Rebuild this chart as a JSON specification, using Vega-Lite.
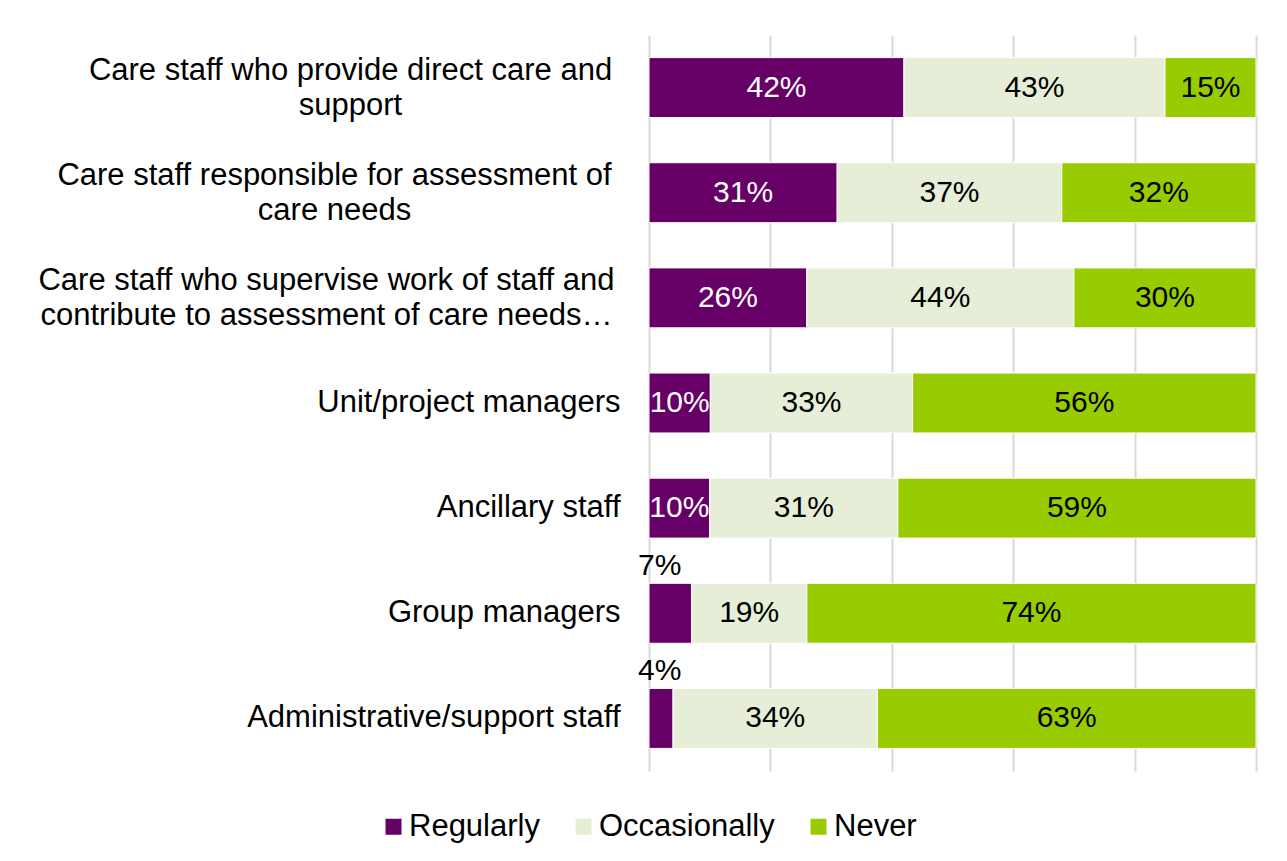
{
  "$schema": "https://vega.github.io/schema/vega-lite/v6.json",
  "autosize": {"type": "none"},
  "padding": {"left": 649, "top": 35, "right": 31, "bottom": 90},
  "width": 607,
  "height": 736,
  "background": "white",
  "config": {
    "font": "Liberation Sans",
    "view": {"stroke": null},
    "axisX": {"labels": false, "ticks": false, "domain": false, "grid": true, "gridColor": "#D9D9D9", "gridWidth": 2, "title": null}
  },
  "data": {
    "values": [
      {"role": "Care staff who provide direct care and\nsupport", "response": "Regularly", "value": 0.42},
      {"role": "Care staff who provide direct care and\nsupport", "response": "Occasionally", "value": 0.43},
      {"role": "Care staff who provide direct care and\nsupport", "response": "Never", "value": 0.15},
      {"role": "Care staff responsible for assessment of\ncare needs", "response": "Regularly", "value": 0.31},
      {"role": "Care staff responsible for assessment of\ncare needs", "response": "Occasionally", "value": 0.37},
      {"role": "Care staff responsible for assessment of\ncare needs", "response": "Never", "value": 0.32},
      {"role": "Care staff who supervise work of staff and\ncontribute to assessment of care needs…", "response": "Regularly", "value": 0.26},
      {"role": "Care staff who supervise work of staff and\ncontribute to assessment of care needs…", "response": "Occasionally", "value": 0.44},
      {"role": "Care staff who supervise work of staff and\ncontribute to assessment of care needs…", "response": "Never", "value": 0.30},
      {"role": "Unit/project managers", "response": "Regularly", "value": 0.10},
      {"role": "Unit/project managers", "response": "Occasionally", "value": 0.33},
      {"role": "Unit/project managers", "response": "Never", "value": 0.56},
      {"role": "Ancillary staff", "response": "Regularly", "value": 0.10},
      {"role": "Ancillary staff", "response": "Occasionally", "value": 0.31},
      {"role": "Ancillary staff", "response": "Never", "value": 0.59},
      {"role": "Group managers", "response": "Regularly", "value": 0.07},
      {"role": "Group managers", "response": "Occasionally", "value": 0.19},
      {"role": "Group managers", "response": "Never", "value": 0.74},
      {"role": "Administrative/support staff", "response": "Regularly", "value": 0.04},
      {"role": "Administrative/support staff", "response": "Occasionally", "value": 0.34},
      {"role": "Administrative/support staff", "response": "Never", "value": 0.63}
    ]
  },
  "transform": [
    {"stack": "value", "groupby": ["role"], "offset": "normalize", "sort": [{"field": "response", "order": "descending"}], "as": ["v0", "v1"]},
    {"calculate": "(datum.v0 + datum.v1) / 2", "as": "mid"}
  ],
  "encoding": {
    "y": {
      "field": "role",
      "type": "nominal",
      "sort": null,
      "title": null,
      "scale": {"paddingInner": 0.43, "paddingOuter": 0.215},
      "axis": {
        "domain": false,
        "ticks": false,
        "grid": false,
        "labelFontSize": 31,
        "labelColor": "black",
        "labelLimit": 700,
        "labelExpr": "split(datum.label, '\\n')",
        "labelLineHeight": 35,
        "labelBaseline": "middle",
        "labelAlign": {"condition": {"test": "indexof(datum.value, '\\n') >= 0", "value": "center"}, "value": "right"},
        "labelOffset": {"condition": {"test": "indexof(datum.value, '\\n') >= 0", "value": -17}, "value": 0},
        "labelPadding": {"condition": [
          {"test": "indexof(datum.value, 'direct') >= 0", "value": 299},
          {"test": "indexof(datum.value, 'responsible') >= 0", "value": 315},
          {"test": "indexof(datum.value, 'supervise') >= 0", "value": 323}
        ], "value": 29}
      }
    }
  },
  "layer": [
    {
      "mark": {"type": "bar", "stroke": "white", "strokeWidth": 1},
      "encoding": {
        "x": {
          "field": "v0",
          "type": "quantitative",
          "scale": {"domain": [0, 1]},
          "axis": {"values": [0, 0.2, 0.4, 0.6, 0.8, 1]}
        },
        "x2": {"field": "v1"},
        "color": {
          "field": "response",
          "type": "nominal",
          "sort": ["Regularly", "Occasionally", "Never"],
          "scale": {"domain": ["Regularly", "Occasionally", "Never"], "range": ["#660066", "#E6EED8", "#99CC00"]},
          "legend": {
            "title": null,
            "orient": "none",
            "direction": "horizontal",
            "legendX": -271,
            "legendY": 776,
            "symbolType": "square",
            "symbolSize": 256,
            "symbolStrokeWidth": 0,
            "labelFontSize": 31,
            "labelColor": "black",
            "labelOffset": 0,
            "columnPadding": 28,
            "labelLimit": 400
          }
        }
      }
    },
    {
      "transform": [{"filter": "datum.value >= 0.08"}],
      "mark": {"type": "text", "fontSize": 30, "align": "center", "baseline": "middle"},
      "encoding": {
        "x": {"field": "mid", "type": "quantitative", "axis": {"values": [0, 0.2, 0.4, 0.6, 0.8, 1]}},
        "text": {"field": "value", "type": "quantitative", "format": ".0%"},
        "color": {"condition": {"test": "datum.response == 'Regularly'", "value": "white"}, "value": "black"}
      }
    },
    {
      "transform": [{"filter": "datum.value < 0.08"}],
      "mark": {"type": "text", "fontSize": 30, "align": "left", "baseline": "middle", "dx": -11, "dy": -47, "color": "black"},
      "encoding": {
        "x": {"field": "v0", "type": "quantitative", "axis": {"values": [0, 0.2, 0.4, 0.6, 0.8, 1]}},
        "text": {"field": "value", "type": "quantitative", "format": ".0%"}
      }
    }
  ]
}
